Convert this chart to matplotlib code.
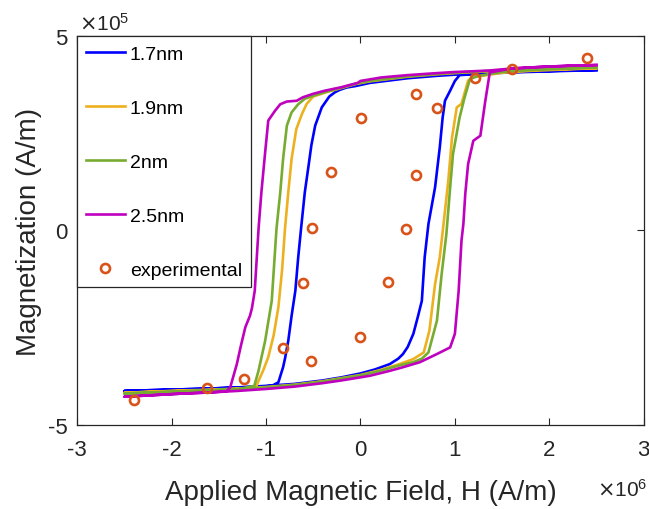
import numpy as np
import matplotlib
matplotlib.use('Agg')
import matplotlib.pyplot as plt

plt.rcParams['font.family'] = ['Liberation Sans', 'DejaVu Sans']
plt.rcParams['axes.unicode_minus'] = False

# Field H in units of 1e6 A/m, magnetization M in units of 1e5 A/m
# each loop: upper branch (H decreasing) followed by lower branch (H increasing)
h_17 = [2.5, 2.2, 1.9, 1.6, 1.3, 1.05, 0.8, 0.5, 0.3, 0.1, -0.05, -0.15, -0.22, -0.27, -0.33,
        -0.41, -0.48, -0.52, -0.55, -0.59, -0.63, -0.66, -0.69, -0.73, -0.765, -0.8, -0.82,
        -0.87, -0.94, -1.1, -1.3, -1.6, -1.9, -2.2, -2.5,
        -2.5, -2.2, -1.9, -1.6, -1.3, -1.0, -0.7, -0.4, -0.2, 0.0, 0.15, 0.31, 0.4, 0.45, 0.5,
        0.56, 0.61, 0.65, 0.68, 0.72, 0.79, 0.84, 0.87, 0.895, 0.95, 1.0, 1.05, 1.3, 1.6, 1.9,
        2.2, 2.5]
m_17 = [4.13, 4.12, 4.10, 4.08, 4.05, 4.02, 3.98, 3.92, 3.86, 3.80, 3.72, 3.68, 3.62, 3.56, 3.45,
        3.17, 2.70, 2.20, 1.67, 0.98, 0.04, -0.70, -1.55, -2.20, -2.84, -3.30, -3.52,
        -3.91, -4.00, -4.03, -4.04, -4.07, -4.09, -4.11, -4.13,
        -4.13, -4.11, -4.09, -4.07, -4.04, -4.00, -3.95, -3.86, -3.78, -3.68, -3.58, -3.44, -3.30,
        -3.18, -3.00, -2.66, -2.20, -1.81, -0.69, 0.17, 1.11, 2.14, 2.90, 3.34, 3.60, 3.85, 4.00,
        4.04, 4.07, 4.09, 4.11, 4.13]

h_19 = [2.5, 2.2, 1.9, 1.6, 1.3, 1.05, 0.8, 0.5, 0.3, 0.1, -0.05, -0.2, -0.35, -0.5, -0.57,
        -0.62, -0.68, -0.73, -0.765, -0.80, -0.83, -0.87, -0.92, -0.977, -1.03, -1.08, -1.11,
        -1.3, -1.6, -1.9, -2.2, -2.5,
        -2.5, -2.2, -1.9, -1.6, -1.3, -1.0, -0.7, -0.4, -0.2, 0.0, 0.2, 0.4, 0.56, 0.67, 0.73,
        0.79, 0.84, 0.88, 0.93, 0.97, 1.02, 1.07, 1.11, 1.14, 1.2, 1.5, 1.8, 2.1, 2.5]
m_19 = [4.18, 4.16, 4.14, 4.12, 4.09, 4.06, 4.02, 3.96, 3.90, 3.84, 3.77, 3.67, 3.57, 3.45, 3.26,
        3.00, 2.61, 1.84, 0.98, 0.04, -1.00, -1.98, -2.70, -3.26, -3.60, -3.87, -4.04,
        -4.08, -4.11, -4.13, -4.15, -4.18,
        -4.18, -4.15, -4.12, -4.10, -4.07, -4.03, -3.97, -3.88, -3.80, -3.72, -3.60, -3.45, -3.31,
        -3.14, -2.58, -1.38, -0.69, 0.17, 1.28, 2.40, 3.17, 3.26, 3.60, 3.86, 3.95, 4.06, 4.11,
        4.14, 4.18]

h_20 = [2.5, 2.2, 1.9, 1.6, 1.3, 1.05, 0.8, 0.5, 0.3, 0.1, -0.05, -0.2, -0.35, -0.5, -0.59,
        -0.66, -0.73, -0.78, -0.82, -0.85, -0.89, -0.94, -1.01, -1.08, -1.125, -1.3, -1.6,
        -1.9, -2.2, -2.5,
        -2.5, -2.2, -1.9, -1.6, -1.3, -1.0, -0.7, -0.4, -0.2, 0.0, 0.2, 0.4, 0.56, 0.65, 0.72,
        0.81, 0.86, 0.91, 0.95, 0.98, 1.05, 1.1, 1.16, 1.25, 1.5, 1.8, 2.1, 2.5]
m_20 = [4.20, 4.18, 4.16, 4.13, 4.10, 4.07, 4.03, 3.97, 3.91, 3.85, 3.78, 3.68, 3.58, 3.47, 3.39,
        3.25, 3.04, 2.70, 1.84, 0.98, 0.04, -1.81, -2.84, -3.61, -4.00, -4.09, -4.12,
        -4.15, -4.17, -4.20,
        -4.20, -4.17, -4.14, -4.11, -4.08, -4.04, -3.98, -3.89, -3.81, -3.73, -3.62, -3.48, -3.39,
        -3.30, -3.14, -2.32, -1.12, -0.09, 1.11, 1.97, 2.91, 3.40, 3.90, 3.98, 4.08, 4.13, 4.16,
        4.20]

h_25 = [2.5, 2.2, 1.9, 1.6, 1.37, 1.2, 1.0, 0.8, 0.5, 0.22, 0.0, -0.03, -0.2, -0.376, -0.5,
        -0.61, -0.676, -0.78, -0.85, -0.906, -0.977, -1.01, -1.05, -1.08, -1.12, -1.15, -1.17,
        -1.22, -1.27, -1.31, -1.38, -1.42, -1.6, -1.9, -2.2, -2.5,
        -2.5, -2.2, -1.9, -1.6, -1.3, -1.0, -0.7, -0.4, -0.2, 0.1, 0.3, 0.45, 0.63, 0.81, 0.95,
        1.0, 1.04, 1.07, 1.09, 1.11, 1.14, 1.195, 1.27, 1.32, 1.37, 1.6, 1.9, 2.2, 2.5]
m_25 = [4.26, 4.24, 4.21, 4.17, 4.12, 4.10, 4.08, 4.05, 4.00, 3.94, 3.85, 3.80, 3.69, 3.60, 3.52,
        3.43, 3.34, 3.32, 3.25, 3.08, 2.83, 2.01, 0.98, 0.04, -1.55, -2.00, -2.19,
        -2.49, -3.00, -3.44, -4.04, -4.14, -4.17, -4.20, -4.24, -4.28,
        -4.28, -4.24, -4.20, -4.17, -4.13, -4.08, -4.02, -3.93, -3.86, -3.74, -3.62, -3.52, -3.39,
        -3.18, -3.01, -2.66, -1.55, -0.26, 0.17, 0.94, 1.71, 2.31, 2.44, 3.30, 4.07, 4.17, 4.21,
        4.24, 4.26]

h_exp = [-2.40, -1.63, -1.23, -0.82, -0.61, -0.52, -0.51, -0.31, 0.00, 0.005, 0.29, 0.48,
         0.59, 0.59, 0.81, 1.21, 1.61, 2.40]
m_exp = [-4.36, -4.06, -3.82, -3.03, -1.36, -3.37, 0.06, 1.50, -2.75, 2.89, -1.33, 0.04,
         1.44, 3.51, 3.15, 3.93, 4.17, 4.44]

labels = ['1.7nm', '1.9nm', '2nm', '2.5nm', 'experimental']
colors = ['#0000FF', '#EDB120', '#77AC30', '#BF00BF']
x_ticks = [-3, -2, -1, 0, 1, 2, 3]
y_ticks = [-5, 0, 5]

txt = '#262626'
fig = plt.figure(figsize=(6.49, 5.10), dpi=100)
ax = fig.add_axes([0.1191, 0.1653, 0.8727, 0.7616])

loops = [(h_17, m_17), (h_19, m_19), (h_20, m_20), (h_25, m_25)]
for (h, m), c, lab in zip(loops, colors, labels):
    ax.plot(h, m, color=c, lw=1.9, label=lab)
ax.plot(h_exp, m_exp, 'o', ls='none', mfc='none', mec='#D95319', mew=1.9, ms=6.5,
        label=labels[4])

ax.set_xlim(-3, 3)
ax.set_ylim(-5, 5)
ax.set_xticks(x_ticks)
ax.set_yticks(y_ticks)
ax.set_xticklabels([str(t) for t in x_ticks])
ax.set_yticklabels([str(t) for t in y_ticks])
ax.tick_params(direction='in', top=True, right=True, length=5, width=0.8,
               labelsize=16, colors=txt, pad=7)
ax.tick_params(axis='x', pad=10)
for s in ax.spines.values():
    s.set_color(txt)
    s.set_linewidth(0.9)

ax.set_xlabel('Applied Magnetic Field, H (A/m)', fontsize=20, color=txt, labelpad=14)
ax.set_ylabel('Magnetization (A/m)', fontsize=20, color=txt, labelpad=4)

# exponent labels, MATLAB style
fig.text(0.998, 0.025, r'$\times\mathregular{10^{6}}$', fontsize=15, color=txt, ha='right')
fig.text(0.122, 0.94, r'$\times\mathregular{10^{5}}$', fontsize=15, color=txt)

leg = ax.legend(loc='upper left', bbox_to_anchor=(0, 1), borderaxespad=0, fontsize=14,
                handlelength=2.0, handletextpad=0.25, borderpad=0.45,
                labelspacing=1.87, fancybox=False, framealpha=1, edgecolor=txt, numpoints=1)
leg.get_frame().set_linewidth(0.9)

fig.savefig('out.png', dpi=100)
